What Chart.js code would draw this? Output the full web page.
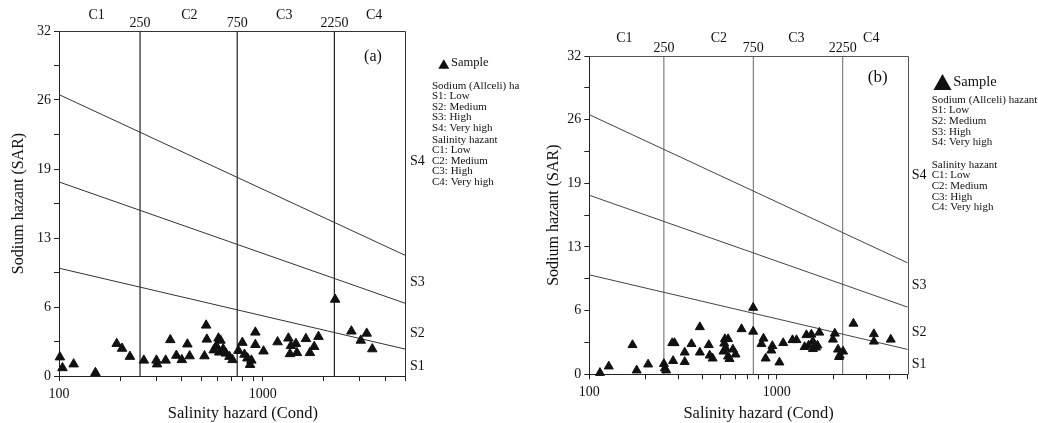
<!DOCTYPE html>
<html><head><meta charset="utf-8">
<script src="https://cdn.jsdelivr.net/npm/chart.js@4.4.0/dist/chart.umd.min.js"></script>
<style>
html,body{margin:0;padding:0;background:#fff;}
#wrap{position:relative;width:1038px;height:423px;overflow:hidden;background:#fff;}
.panel{position:absolute;top:0;height:423px;}
</style></head><body>
<div id="wrap">
<div class="panel" style="left:0;width:519px"><canvas id="ca" width="519" height="423"></canvas></div>
<div class="panel" style="left:520px;width:518px"><canvas id="cb" width="518" height="423"></canvas></div>
</div>
<script>
// ---------- data ----------
const condA = [101,104,118,151,192,204,223,261,301,303,334,352,377,401,427,438,518,528,532,607,621,575,592,612,640,660,687,711,760,795,814,842,867,880,921,921,1010,1184,1338,1377,1362,1457,1474,1631,1706,1791,1880,2269,2727,3032,3243,3454];
const sarA  = [1.75,0.75,1.1,0.3,3.0,2.55,1.8,1.45,1.45,1.1,1.45,3.35,1.9,1.5,2.95,1.85,1.85,4.7,3.4,3.5,3.3,2.4,2.8,2.2,2.5,2.1,1.8,1.5,2.35,3.1,2.0,1.65,1.05,1.45,4.05,2.9,2.3,3.15,3.5,2.8,2.05,3.0,2.15,3.45,2.15,2.72,3.65,7.1,4.15,3.3,3.95,2.5];
const condB = [114,127,170,179,206,250,253,257,277,285,280,323,323,351,389,389,434,439,455,529,550,525,535,520,550,584,603,560,649,749,749,850,829,948,936,873,1034,1083,1214,1275,1441,1531,1688,1409,1480,1560,1620,1650,1560,2042,1995,2124,2168,2260,2150,2567,3300,3300,4060];
const sarB  = [0.15,0.8,2.95,0.4,1.0,1.05,0.6,0.4,3.15,3.15,1.35,2.2,1.25,3.05,4.75,2.2,2.95,1.9,1.6,3.55,3.55,3.1,2.6,2.3,1.8,2.5,2.0,1.55,4.55,6.7,4.3,3.6,3.05,2.85,2.4,1.6,1.2,3.15,3.45,3.45,3.95,4.0,4.2,2.75,2.9,3.3,2.7,2.9,2.55,4.1,3.5,2.5,1.9,2.3,1.75,5.1,4.05,3.3,3.5];

const boundaryCond = [100, 5000];
const boundaryS1S2 = [10.0, 2.5];
const boundaryS2S3 = [18.0, 6.75];
const boundaryS3S4 = [26.1, 11.2];

const condClassBounds = [250, 750, 2250];
const condClassBoundLabels = ['250', '750', '2250'];
const condClassNames = ['C1', 'C2', 'C3', 'C4'];
const condClassNamePosA = [153, 437, 1276, 3524];
const condClassNamePosB = [154, 491, 1273, 3195];
const sodiumClassNames = ['S1', 'S2', 'S3', 'S4'];
const sodiumClassNamePosA = [0.93, 4.0, 8.65, 19.95];
const sodiumClassNamePosB = [0.97, 4.18, 8.95, 20.0];

const yTickValues = [0, 3.2, 6.4, 9.6, 12.8, 16, 19.2, 22.4, 25.6, 28.8, 32];
const yTickLabels = ['0', '', '6', '', '13', '', '19', '', '26', '', '32'];
const xTickValues = [100, 200, 300, 400, 500, 600, 700, 800, 900, 1000, 2000, 3000, 4000, 5000];
const xTickLabels = ['100', '', '', '', '', '', '', '', '', '1000', '', '', '', ''];

const legendSampleLabel = 'Sample';
const legendSodium = ['Sodium (Allceli) hazant', 'S1: Low', 'S2: Medium', 'S3: High', 'S4: Very high'];
const legendSalinity = ['Salinity hazant', 'C1: Low', 'C2: Medium', 'C3: High', 'C4: Very high'];
const xTitle = 'Salinity hazard (Cond)';
const xTitleCenter = 800;
const yTitle = 'Sodium hazant (SAR)';

// ---------- drawing ----------
const FONT = '"Liberation Serif", "DejaVu Serif", serif';
Chart.defaults.font.family = FONT;
Chart.defaults.color = '#111';

const decor = {
  id: 'decor',
  afterDraw(chart, args, o) {
    const {ctx, chartArea: a, scales: {x, y}} = chart;
    ctx.save();
    ctx.strokeStyle = o.frameColor; ctx.lineWidth = 1;
    const t = Math.round(a.top) + 0.5, r = Math.round(a.right) + 0.5;
    ctx.beginPath(); ctx.moveTo(a.left, t); ctx.lineTo(r, t); ctx.lineTo(r, a.bottom); ctx.stroke();

    ctx.fillStyle = '#111';
    ctx.textAlign = 'center'; ctx.textBaseline = 'middle';
    ctx.font = '14px ' + FONT;
    condClassBounds.forEach((v, i) => ctx.fillText(condClassBoundLabels[i], x.getPixelForValue(v), a.top - o.numDy));
    o.cPos.forEach((v, i) => ctx.fillText(condClassNames[i], x.getPixelForValue(v), a.top - o.cDy));
    ctx.textAlign = 'left';
    o.sPos.forEach((v, i) => ctx.fillText(sodiumClassNames[i], a.right + o.sDx, y.getPixelForValue(v)));

    ctx.textAlign = 'center';
    ctx.font = o.labelFont + 'px ' + FONT;
    ctx.fillText(o.label, a.right + o.labelDx, a.top + o.labelDy);

    ctx.font = '16.5px ' + FONT;
    ctx.fillText(xTitle, x.getPixelForValue(xTitleCenter), o.xTitleY);

    // legend marker
    const tx = a.right + o.triDx, ty = o.triY;
    ctx.beginPath();
    ctx.moveTo(tx, ty - o.triH / 2);
    ctx.lineTo(tx + o.triW / 2, ty + o.triH / 2);
    ctx.lineTo(tx - o.triW / 2, ty + o.triH / 2);
    ctx.closePath();
    ctx.fillStyle = '#111'; ctx.fill();
    ctx.textAlign = 'left';
    ctx.font = o.sampleFont + 'px ' + FONT;
    ctx.fillText(legendSampleLabel, a.right + o.sampleDx, o.sampleY);

    ctx.font = '11px ' + FONT;
    legendSodium.forEach((s, i) => ctx.fillText(s, a.right + o.legDx, o.block1Y + i * o.step));
    legendSalinity.forEach((s, i) => ctx.fillText(s, a.right + o.legDx, o.block2Y + i * o.step));
    ctx.restore();
  }
};

function lineDs(xs, ys, color, w) {
  return {type: 'scatter', showLine: true, data: xs.map((v, i) => ({x: v, y: ys[i]})),
    borderColor: color, borderWidth: w, pointRadius: 0, fill: false, order: 2};
}

function makePanel(p) {
  const datasets = [
    {data: p.cond.map((v, i) => ({x: v, y: p.sar[i]})), pointStyle: 'triangle', pointRadius: p.pointR,
     backgroundColor: '#111', borderColor: '#111', borderWidth: 1, order: 0, clip: false},
    lineDs(boundaryCond, boundaryS1S2, p.diagColor, 1),
    lineDs(boundaryCond, boundaryS2S3, p.diagColor, 1),
    lineDs(boundaryCond, boundaryS3S4, p.diagColor, 1),
  ];
  condClassBounds.forEach(v => datasets.push(lineDs([v, v], [0, 32], p.vColor, p.vWidth)));
  new Chart(document.getElementById(p.canvas), {
    type: 'scatter',
    data: {datasets},
    plugins: [decor],
    options: {
      responsive: false, animation: false, events: [],
      layout: {padding: {left: 0, top: p.top, right: p.right, bottom: 0}},
      plugins: {legend: {display: false}, tooltip: {enabled: false}, decor: p},
      scales: {
        x: {
          type: 'logarithmic', position: 'bottom', min: 100, max: 5000,
          afterBuildTicks: s => { s.ticks = xTickValues.map(v => ({value: v})); },
          afterFit: s => { s.height = p.xH; },
          ticks: {autoSkip: false, maxRotation: 0, padding: 5, font: {size: 14}, color: '#111',
                  callback: (v, i) => xTickLabels[i]},
          grid: {display: true, drawOnChartArea: false, drawTicks: true, tickLength: 5, color: '#222'},
          border: {display: true, color: '#222', width: 1},
          title: {display: false}
        },
        y: {
          type: 'linear', min: 0, max: 32,
          afterBuildTicks: s => { s.ticks = yTickValues.map(v => ({value: v})); },
          afterFit: s => { s.width = p.yW; },
          ticks: {autoSkip: false, padding: 3, font: {size: 14}, color: '#111',
                  callback: (v, i) => yTickLabels[i]},
          grid: {display: true, drawOnChartArea: false, drawTicks: true, tickLength: 5, color: '#222'},
          border: {display: true, color: '#222', width: 1},
          title: {display: true, text: yTitle, font: {size: 16, lineHeight: 1}, color: '#111',
                  padding: {top: p.yTitlePad, bottom: 0}}
        }
      }
    }
  });
}

makePanel({canvas: 'ca', label: '(a)', cond: condA, sar: sarA, top: 31, right: 114, yW: 59, xH: 47,
  yTitlePad: 10.5, frameColor: '#333', diagColor: '#333', vColor: '#222', vWidth: 1.2, pointR: 5.5,
  cPos: condClassNamePosA, sPos: sodiumClassNamePosA, cDy: 16, numDy: 8, sDx: 5,
  labelDx: -32, labelDy: 26, labelFont: 16, xTitleY: 414,
  triDx: 38.8, triY: 64, triW: 11, triH: 9.5, sampleDx: 46, sampleY: 63, sampleFont: 12.5,
  legDx: 27, block1Y: 86, block2Y: 139.7, step: 10.5});

makePanel({canvas: 'cb', label: '(b)', cond: condB, sar: sarB, top: 56, right: 130.3, yW: 69.3, xH: 48.7,
  yTitlePad: 26, frameColor: '#555', diagColor: '#444', vColor: '#666', vWidth: 1, pointR: 5.2,
  cPos: condClassNamePosB, sPos: sodiumClassNamePosB, cDy: 18, numDy: 8, sDx: 4,
  labelDx: -30, labelDy: 22, labelFont: 17, xTitleY: 414,
  triDx: 34.8, triY: 82, triW: 18, triH: 16, sampleDx: 45.6, sampleY: 82.3, sampleFont: 14.5,
  legDx: 24, block1Y: 100, block2Y: 165, step: 10.6});
</script>
</body></html>
